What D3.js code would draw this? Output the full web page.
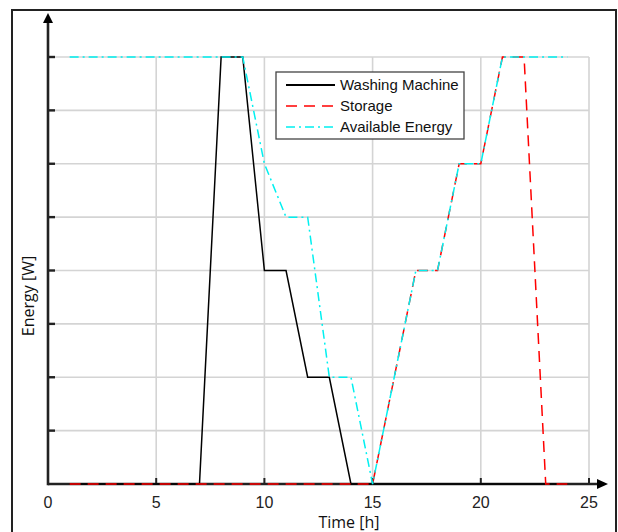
<!DOCTYPE html>
<html>
<head>
<meta charset="utf-8">
<script src="https://cdn.jsdelivr.net/npm/d3@7"></script>
<style>
  body { margin: 0; background: #fff; }
  svg { display: block; }
</style>
</head>
<body>
<svg id="chart" width="618" height="532"></svg>
<script>
// hours and energy levels
const hours = [1, 2, 3, 4, 5, 6, 7, 8, 9, 10, 11, 12, 13, 14, 15, 16, 17, 18, 19, 20, 21, 22, 23, 24];
const washingMachine = [0, 0, 0, 0, 0, 0, 0, 8, 8, 4, 4, 2, 2, 0, 0, 0, 0, 0, 0, 0, 0, 0, 0, 0];
const storage = [0, 0, 0, 0, 0, 0, 0, 0, 0, 0, 0, 0, 0, 0, 0, 2, 4, 4, 6, 6, 8, 8, 0, 0];
const availableEnergy = [8, 8, 8, 8, 8, 8, 8, 8, 8, 6, 5, 5, 2, 2, 0, 2, 4, 4, 6, 6, 8, 8, 8, 8];
const xTicks = [0, 5, 10, 15, 20, 25];
const yLevels = [1, 2, 3, 4, 5, 6, 7, 8];

const series = [
  { name: "Washing Machine", values: washingMachine, color: "#000", dash: null },
  { name: "Storage", values: storage, color: "#ff0000", dash: "11,7" },
  { name: "Available Energy", values: availableEnergy, color: "#00f0f0", dash: "9,4,2,4" }
];

const svg = d3.select("#chart");

const x = d3.scaleLinear().domain([0, 25]).range([48, 589]);
const y = d3.scaleLinear().domain([0, 8]).range([484, 57]);

// outer frame
svg.append("rect")
  .attr("x", 12).attr("y", 10)
  .attr("width", 604).attr("height", 540)
  .attr("fill", "none")
  .attr("stroke", "#222")
  .attr("stroke-width", 2);

// grid
const grid = svg.append("g").attr("stroke", "#d4d4d4").attr("stroke-width", 1.6);
grid.selectAll(".hg").data(yLevels).enter().append("line")
  .attr("x1", x(0)).attr("x2", x(25))
  .attr("y1", d => y(d)).attr("y2", d => y(d));
grid.selectAll(".vg").data(xTicks.slice(1)).enter().append("line")
  .attr("x1", d => x(d)).attr("x2", d => x(d))
  .attr("y1", y(0)).attr("y2", y(8));

// axes with arrows
const axisCol = "#222";
svg.append("line")
  .attr("x1", x(0)).attr("x2", 598)
  .attr("y1", y(0)).attr("y2", y(0))
  .attr("stroke", axisCol).attr("stroke-width", 2.6);
svg.append("path")
  .attr("d", `M597,${y(0) - 5}L608,${y(0)}L597,${y(0) + 5}Z`)
  .attr("fill", "#000");
svg.append("line")
  .attr("x1", x(0)).attr("x2", x(0))
  .attr("y1", y(0) + 1.3).attr("y2", 22)
  .attr("stroke", axisCol).attr("stroke-width", 2.6);
svg.append("path")
  .attr("d", `M${x(0) - 5},23L${x(0)},13L${x(0) + 5},23Z`)
  .attr("fill", "#000");

// ticks
svg.selectAll(".yt").data(yLevels).enter().append("line")
  .attr("x1", x(0)).attr("x2", x(0) + 7)
  .attr("y1", d => y(d)).attr("y2", d => y(d))
  .attr("stroke", axisCol).attr("stroke-width", 2.4);
svg.selectAll(".xt").data(xTicks.slice(1)).enter().append("line")
  .attr("x1", d => x(d)).attr("x2", d => x(d))
  .attr("y1", y(0)).attr("y2", y(0) - 6)
  .attr("stroke", axisCol).attr("stroke-width", 2);

// series lines (on top of the axes, so the red dashes show on the baseline)
const line = d3.line()
  .x((d, i) => x(hours[i]))
  .y(d => y(d));

series.forEach(s => {
  svg.append("path")
    .datum(s.values)
    .attr("fill", "none")
    .attr("stroke", s.color)
    .attr("stroke-width", 1.5)
    .attr("stroke-dasharray", s.dash)
    .attr("d", line);
});

svg.selectAll(".xl").data(xTicks).enter().append("text")
  .attr("x", d => x(d))
  .attr("y", 508)
  .attr("text-anchor", "middle")
  .attr("font-family", "Liberation Sans, Arial, sans-serif")
  .attr("font-size", "16px")
  .attr("fill", "#222")
  .text(d => d);

// axis titles
svg.append("text")
  .attr("x", 349).attr("y", 528)
  .attr("text-anchor", "middle")
  .attr("font-family", "Open Sans, sans-serif")
  .attr("font-size", "16px")
  .attr("fill", "#111")
  .text("Time [h]");

svg.append("text")
  .attr("transform", "translate(34,296) rotate(-90)")
  .attr("text-anchor", "middle")
  .attr("font-family", "Open Sans, sans-serif")
  .attr("font-size", "16px")
  .attr("fill", "#111")
  .text("Energy [W]");

// legend
const legend = svg.append("g");
legend.append("rect")
  .attr("x", 276).attr("y", 72)
  .attr("width", 188).attr("height", 67)
  .attr("fill", "#fff")
  .attr("stroke", "#444")
  .attr("stroke-width", 1.3);

series.forEach((s, i) => {
  const ly = 85 + i * 21;
  legend.append("line")
    .attr("x1", 286).attr("x2", 335)
    .attr("y1", ly).attr("y2", ly)
    .attr("stroke", s.color)
    .attr("stroke-width", s.dash ? 1.5 : 2)
    .attr("stroke-dasharray", s.dash);
  legend.append("text")
    .attr("x", 340).attr("y", ly + 5)
    .attr("font-family", "Liberation Sans, Arial, sans-serif")
    .attr("font-size", "15px")
    .attr("fill", "#111")
    .text(s.name);
});
</script>
</body>
</html>
